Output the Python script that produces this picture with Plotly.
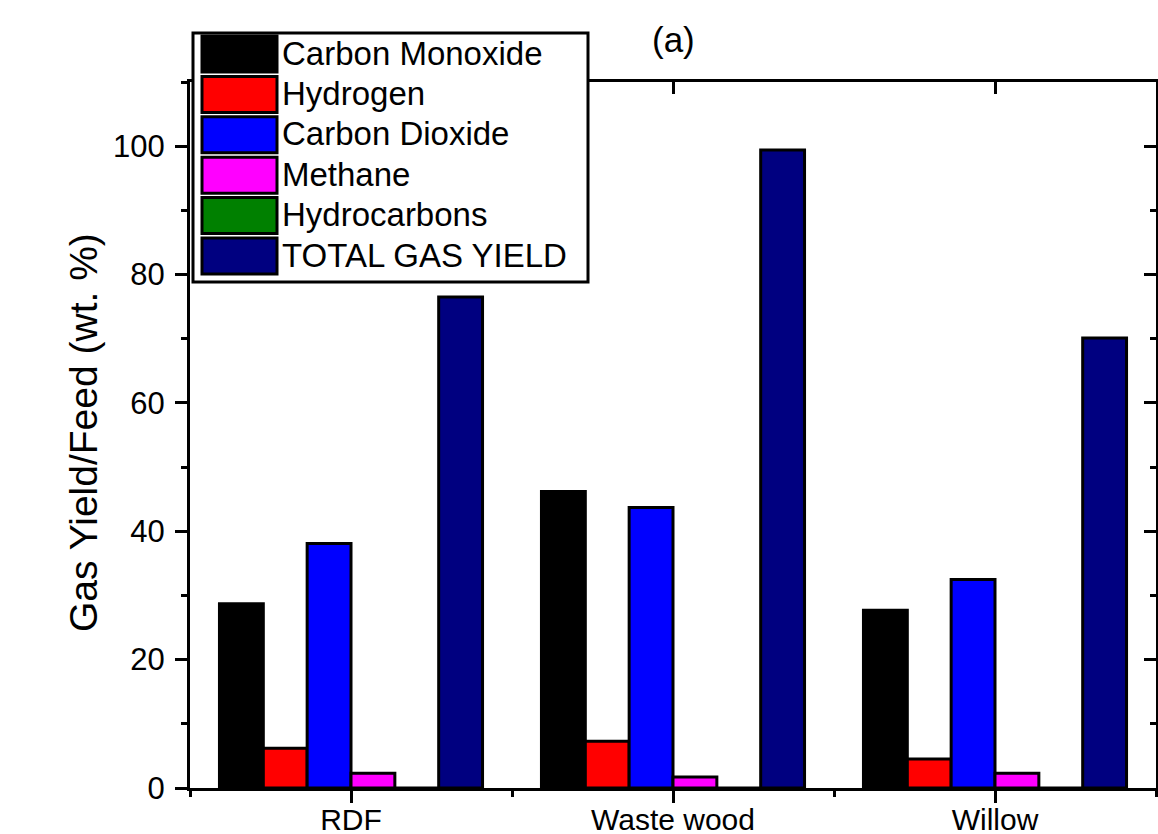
import plotly.graph_objects as go

# ---- data ----
categories = ["RDF", "Waste wood", "Willow"]
series_names = ["Carbon Monoxide", "Hydrogen", "Carbon Dioxide", "Methane",
                "Hydrocarbons", "TOTAL GAS YIELD"]
carbon_monoxide = [28.7, 46.2, 27.7]
hydrogen = [6.2, 7.3, 4.5]
carbon_dioxide = [38.1, 43.7, 32.5]
methane = [2.3, 1.7, 2.3]
hydrocarbons = [0.0, 0.0, 0.0]
total_gas_yield = [76.5, 99.4, 70.1]
y_ticks = [0, 20, 40, 60, 80, 100]

series_values = [carbon_monoxide, hydrogen, carbon_dioxide, methane,
                 hydrocarbons, total_gas_yield]
colors = ["#000000", "#ff0000", "#0000ff", "#ff00ff", "#008000", "#000080"]

W, H = 1158, 834
L, R, T, B = 190, 2, 82, 46
pw, ph = W - L - R, H - T - B


def px_x(px):
    return (px - L) / pw


def px_y(py):
    return (H - B - py) / ph


FONT = "Arial, Liberation Sans, sans-serif"

fig = go.Figure()
xpos = list(range(len(categories)))
for name, vals, col in zip(series_names, series_values, colors):
    fig.add_trace(go.Bar(
        x=xpos, y=vals, name=name,
        marker=dict(color=col, line=dict(color="black", width=3)),
        showlegend=False,
    ))

# empty trace to keep mirrored axes alive
fig.add_trace(go.Scatter(x=[], y=[], xaxis="x2", yaxis="y2", showlegend=False))

fig.update_layout(
    width=W, height=H,
    margin=dict(l=L, r=R, t=T, b=B, autoexpand=False),
    paper_bgcolor="white", plot_bgcolor="white",
    barmode="group", bargap=0.183, bargroupgap=0,
    font=dict(family=FONT, color="black", size=30),
    xaxis=dict(
        range=[-0.5, 2.5], tickmode="array", tickvals=xpos, ticktext=categories,
        ticks="outside", ticklen=12, tickwidth=3, tickcolor="black",
        showline=True, linewidth=3, linecolor="black",
        showgrid=False, zeroline=False, automargin=False,
        tickfont=dict(size=30, family=FONT), ticklabelstandoff=-9,
        minor=dict(tickmode="array", tickvals=[-0.5, 0.5, 1.5, 2.5],
                   ticks="outside", ticklen=6, tickwidth=3, tickcolor="black"),
    ),
    yaxis=dict(
        range=[0, 110], tickmode="array", tickvals=y_ticks,
        ticks="outside", ticklen=12, tickwidth=3, tickcolor="black",
        showline=True, linewidth=3, linecolor="black",
        showgrid=False, zeroline=False, automargin=False,
        tickfont=dict(size=31, family=FONT), ticklabelstandoff=4,
        minor=dict(dtick=10, tick0=0, ticks="outside", ticklen=6,
                   tickwidth=3, tickcolor="black"),
    ),
    xaxis2=dict(
        overlaying="x", side="top", anchor="y", range=[-0.5, 2.5],
        tickmode="array", tickvals=xpos, showticklabels=False,
        ticks="inside", ticklen=12, tickwidth=3, tickcolor="black",
        showline=True, linewidth=3, linecolor="black",
        showgrid=False, zeroline=False, automargin=False,
    ),
    yaxis2=dict(
        overlaying="y", side="right", anchor="x", range=[0, 110],
        tickmode="array", tickvals=y_ticks, showticklabels=False,
        ticks="inside", ticklen=12, tickwidth=3, tickcolor="black",
        showline=True, linewidth=3, linecolor="black",
        showgrid=False, zeroline=False, automargin=False,
        minor=dict(dtick=10, tick0=0, ticks="inside", ticklen=6,
                   tickwidth=3, tickcolor="black"),
    ),
)

# y-axis title and panel label
fig.add_annotation(text="Gas Yield/Feed (wt. %)", xref="paper", yref="paper",
                   x=px_x(84), y=px_y(433), textangle=-90, showarrow=False,
                   font=dict(size=39, family=FONT), xanchor="center", yanchor="middle")
fig.add_annotation(text="(a)", xref="paper", yref="paper",
                   x=px_x(673), y=px_y(39), showarrow=False,
                   font=dict(size=35, family=FONT), xanchor="center", yanchor="middle")

# custom legend (large swatches like the original)
shapes = [dict(type="rect", xref="paper", yref="paper",
               x0=px_x(193), x1=px_x(588), y0=px_y(33), y1=px_y(282),
               fillcolor="white", line=dict(color="black", width=3), layer="above")]
row0, step = 54, 40.4
for i, (name, col) in enumerate(zip(series_names, colors)):
    cy = row0 + step * i
    shapes.append(dict(type="rect", xref="paper", yref="paper",
                       x0=px_x(202), x1=px_x(277), y0=px_y(cy - 18), y1=px_y(cy + 18),
                       fillcolor=col, line=dict(color="black", width=3), layer="above"))
    fig.add_annotation(text=name, xref="paper", yref="paper",
                       x=px_x(280), y=px_y(cy - 1), showarrow=False,
                       font=dict(size=33, family=FONT),
                       xanchor="left", yanchor="middle")
fig.update_layout(shapes=shapes)

fig.write_html("out.html", config={"displayModeBar": False},
               post_script="document.body.style.margin='0';")
